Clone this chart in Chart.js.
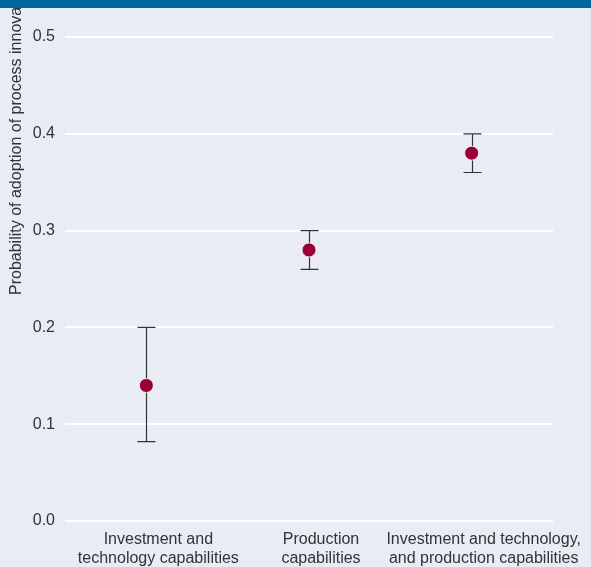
<!DOCTYPE html>
<html>
<head>
<meta charset="utf-8">
<script src="https://cdn.jsdelivr.net/npm/chart.js@4"></script>
<style>
html,body{margin:0;padding:0;background:#e9ecf4;}
#wrap{width:591px;height:567px;position:relative;}
</style>
</head>
<body>
<div id="wrap"><canvas id="c" width="591" height="567"></canvas></div>
<script>
const categories = [
  ["Investment and", "technology capabilities"],
  ["Production", "capabilities"],
  ["Investment and technology,", "and production capabilities"]
];
const values = [0.14, 0.28, 0.38];
const lowerBounds = [0.082, 0.26, 0.36];
const upperBounds = [0.20, 0.30, 0.40];
const yTicks = [0.0, 0.1, 0.2, 0.3, 0.4, 0.5];
const yTitle = "Probability of adoption of process innovation";

const FONT = "'Liberation Sans', Arial, sans-serif";

const bgPlugin = {
  id: 'bg',
  beforeDraw(chart) {
    const ctx = chart.ctx;
    ctx.save();
    ctx.fillStyle = '#e9ecf4';
    ctx.fillRect(0, 0, chart.width, chart.height);
    ctx.restore();
  }
};

const errorBarPlugin = {
  id: 'errbars',
  beforeDatasetsDraw(chart) {
    const ctx = chart.ctx;
    const xs = chart.scales.x, ys = chart.scales.y;
    ctx.save();
    ctx.strokeStyle = '#333333';
    ctx.lineWidth = 1.2;
    for (let i = 0; i < values.length; i++) {
      const x = Math.round(xs.getPixelForValue(i)) + 0.5;
      const yl = ys.getPixelForValue(lowerBounds[i]);
      const yu = ys.getPixelForValue(upperBounds[i]);
      ctx.beginPath();
      ctx.moveTo(x, yl); ctx.lineTo(x, yu);
      ctx.moveTo(x - 9, yl); ctx.lineTo(x + 9, yl);
      ctx.moveTo(x - 9, yu); ctx.lineTo(x + 9, yu);
      ctx.stroke();
    }
    ctx.restore();
  }
};

const yTitlePlugin = {
  id: 'ytitle',
  afterDraw(chart) {
    const ctx = chart.ctx;
    ctx.save();
    ctx.translate(17, 295);
    ctx.rotate(-Math.PI / 2);
    ctx.font = '16px ' + FONT;
    ctx.fillStyle = '#333333';
    ctx.textAlign = 'left';
    ctx.textBaseline = 'middle';
    ctx.fillText(yTitle, 0, 0);
    ctx.restore();
    ctx.save();
    ctx.fillStyle = '#0066a1';
    ctx.fillRect(0, 0, chart.width, 8);
    ctx.restore();
  }
};

new Chart(document.getElementById('c'), {
  type: 'line',
  data: {
    labels: categories,
    datasets: [{
      data: values,
      showLine: false,
      pointRadius: 7,
      pointHoverRadius: 7,
      pointBackgroundColor: '#990033',
      pointBorderColor: '#ffffff',
      pointBorderWidth: 0.8
    }]
  },
  options: {
    responsive: false,
    animation: false,
    events: [],
    layout: { padding: { top: 37, right: 38, left: 0, bottom: 0 } },
    plugins: { legend: { display: false }, tooltip: { enabled: false } },
    scales: {
      x: {
        type: 'category',
        offset: true,
        grid: { display: false, drawTicks: false },
        border: { display: false },
        ticks: {
          autoSkip: false, maxRotation: 0, minRotation: 0, padding: 9,
          labelOffset: 12,
          color: '#333333',
          font: { family: FONT, size: 16, lineHeight: 1.2 }
        },
        afterFit(s) { s.height = 46; }
      },
      y: {
        min: 0, max: 0.5,
        afterBuildTicks(s) { s.ticks = yTicks.map(v => ({ value: v })); },
        grid: { color: '#ffffff', lineWidth: 2, drawTicks: false },
        border: { display: false },
        ticks: {
          padding: 10,
          color: '#333333',
          font: { family: FONT, size: 16 },
          callback: v => Number(v).toFixed(1)
        },
        afterFit(s) { s.width = 65; }
      }
    }
  },
  plugins: [bgPlugin, errorBarPlugin, yTitlePlugin]
});
</script>
</body>
</html>
